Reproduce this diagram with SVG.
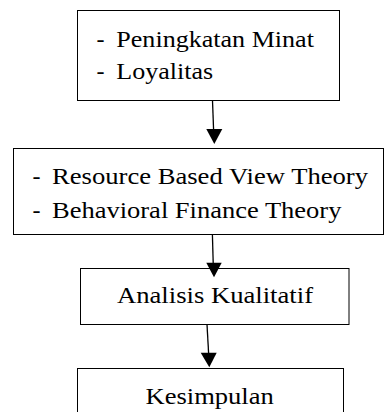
<svg xmlns="http://www.w3.org/2000/svg" width="384" height="412" viewBox="0 0 384 412">
<style>
rect.box{fill:#fff;stroke:#000;stroke-width:1}
.conn line{stroke:#000;stroke-width:1.3}
.conn polygon{fill:#000}
</style>
<rect width="384" height="412" fill="#fff"/>
<g font-family="Liberation Serif, DejaVu Serif, serif" font-size="24" fill="#000">
<g id="node1">
<rect class="box" x="77.5" y="10.5" width="262" height="90"/>
<text x="96.5" y="46.7">-</text>
<text x="116.3" y="46.7" textLength="197.6" lengthAdjust="spacingAndGlyphs">Peningkatan Minat</text>
<text x="96.5" y="79">-</text>
<text x="116.3" y="79" textLength="96.8" lengthAdjust="spacingAndGlyphs">Loyalitas</text>
</g>
<g id="node2">
<rect class="box" x="13.5" y="148.5" width="370" height="86"/>
<text x="32.5" y="184">-</text>
<text x="52" y="184" textLength="316" lengthAdjust="spacingAndGlyphs">Resource Based View Theory</text>
<text x="32.5" y="218.3">-</text>
<text x="52" y="218.3" textLength="289.4" lengthAdjust="spacingAndGlyphs">Behavioral Finance Theory</text>
</g>
<g id="node3">
<rect class="box" x="80.5" y="268.5" width="268.5" height="56"/>
<text x="117" y="303.3" textLength="196" lengthAdjust="spacingAndGlyphs">Analisis Kualitatif</text>
</g>
<g id="node4">
<rect class="box" x="77.5" y="368.5" width="266" height="60"/>
<text x="145.5" y="403.5" textLength="128.3" lengthAdjust="spacingAndGlyphs">Kesimpulan</text>
</g>
</g>
<g id="connectors" class="conn">
<line x1="212.5" y1="100.5" x2="213.6" y2="130"/>
<polygon points="206.3,129 222.3,129 214.3,144"/>
<line x1="212.4" y1="234.5" x2="213.2" y2="263"/>
<polygon points="206.3,262.7 221.7,262.7 214,277.3"/>
<line x1="207" y1="324.5" x2="208.6" y2="353"/>
<polygon points="200.7,352.7 216.7,352.7 209.3,367.3"/>
</g>
</svg>
